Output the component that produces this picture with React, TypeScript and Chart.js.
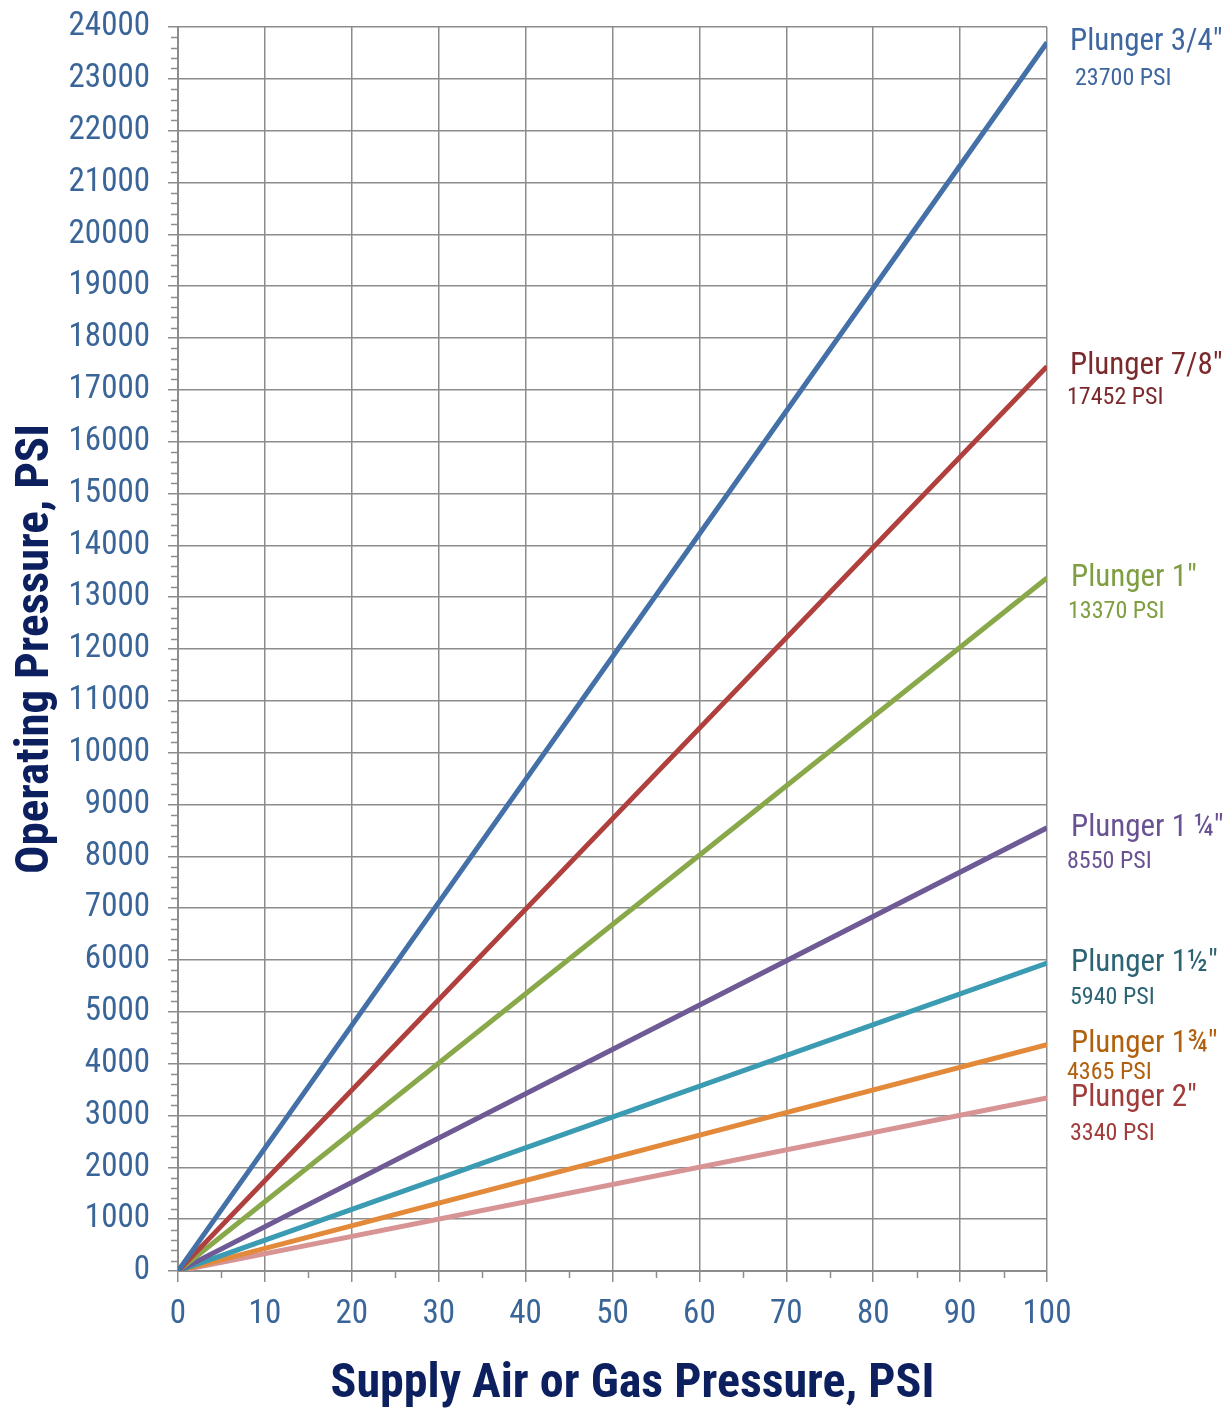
import React, { useEffect, useRef } from "react";
import { Chart, registerables } from "chart.js";

Chart.register(...registerables);

const supplyPressure = [0, 100];
const plunger34 = [0, 23700];
const plunger78 = [0, 17452];
const plunger1 = [0, 13370];
const plunger114 = [0, 8550];
const plunger112 = [0, 5940];
const plunger134 = [0, 4365];
const plunger2 = [0, 3340];

const seriesValues = [plunger34, plunger78, plunger1, plunger114, plunger112, plunger134, plunger2];
const plungerNames = ['Plunger 3/4"', 'Plunger 7/8"', 'Plunger 1"', 'Plunger 1 \u00BC"', 'Plunger 1\u00BD"', 'Plunger 1\u00BE"', 'Plunger 2"'];
const psiLabels = ["23700 PSI", "17452 PSI", "13370 PSI", "8550 PSI", "5940 PSI", "4365 PSI", "3340 PSI"];
const xTitle = "Supply Air or Gas Pressure, PSI";
const yTitle = "Operating Pressure, PSI";
const lineColors = ["#4470a8", "#b0403e", "#88a84a", "#6e5a94", "#3a9bb2", "#e2893a", "#d89494"];
const labelColors = ["#3e67a0", "#7a2a2c", "#7e9e40", "#6a5292", "#2c6474", "#b0600f", "#a03c3c"];
const nameDx = [23, 23, 24, 24, 24, 24, 24];
const psiDx = [28, 20, 21, 20, 23, 20, 23];
const psiDy = [36, 32, 34, 34, 35, 28, 36];

const FONT = '"Roboto Condensed", "Open Sans Condensed", sans-serif';
const TICK_COLOR = "#3a6598";
const TITLE_COLOR = "#0c1f5e";
const GRID_COLOR = "#8c8c8c";

const extrasPlugin = {
  id: "extras",
  afterDraw(chart: any) {
    const ctx = chart.ctx;
    const xs = chart.scales.x;
    const ys = chart.scales.y;
    const area = chart.chartArea;
    ctx.save();
    ctx.strokeStyle = GRID_COLOR;
    ctx.lineWidth = 1.5;
    for (let v = 0; v <= 24000; v += 200) {
      if (v % 1000 === 0) continue;
      const py = Math.round(ys.getPixelForValue(v)) + 0.5;
      ctx.beginPath();
      ctx.moveTo(area.left - 7, py);
      ctx.lineTo(area.left, py);
      ctx.stroke();
    }
    for (let v = 0; v <= 100; v += 5) {
      if (v % 10 === 0) continue;
      const px = Math.round(xs.getPixelForValue(v)) + 0.5;
      ctx.beginPath();
      ctx.moveTo(px, area.bottom);
      ctx.lineTo(px, area.bottom + 7);
      ctx.stroke();
    }
    ctx.textAlign = "left";
    ctx.textBaseline = "middle";
    seriesValues.forEach((vals, i) => {
      const py = ys.getPixelForValue(vals[vals.length - 1]);
      ctx.fillStyle = labelColors[i];
      ctx.font = "31px " + FONT;
      ctx.fillText(plungerNames[i], area.right + nameDx[i], py);
      ctx.font = "24px " + FONT;
      ctx.fillText(psiLabels[i], area.right + psiDx[i], py + psiDy[i]);
    });
    ctx.textAlign = "center";
    ctx.fillStyle = TITLE_COLOR;
    ctx.font = "bold 48px " + FONT;
    ctx.fillText(xTitle, (area.left + area.right) / 2 + 20, area.bottom + 114);
    ctx.restore();
  },
};

export default function App() {
  const ref = useRef<HTMLCanvasElement>(null);
  useEffect(() => {
    document.body.style.margin = "0";
    const chart = new Chart(ref.current as HTMLCanvasElement, {
      type: "line",
      data: {
        datasets: seriesValues.map((vals, i) => ({
          label: plungerNames[i],
          data: vals.map((v, j) => ({ x: supplyPressure[j], y: v })),
          borderColor: lineColors[i],
          backgroundColor: lineColors[i],
          borderWidth: 5,
          pointRadius: 0,
          fill: false,
        })),
      },
      options: {
        animation: false,
        responsive: true,
        maintainAspectRatio: false,
        layout: { padding: { left: 8, right: 184, top: 27, bottom: 0 } },
        plugins: { legend: { display: false }, tooltip: { enabled: false } },
        scales: {
          x: {
            type: "linear",
            min: 0,
            max: 100,
            ticks: { stepSize: 10, color: TICK_COLOR, font: { family: FONT, size: 33 }, padding: 13, callback: (v: any) => String(v) },
            grid: { color: GRID_COLOR, lineWidth: 1.5, tickLength: 11 },
            border: { color: GRID_COLOR, width: 2 },
            title: { display: false },
            afterFit: (s: any) => { s.height = 141; s.paddingLeft = 0; s.paddingRight = 0; },
          },
          y: {
            min: 0,
            max: 24000,
            ticks: { stepSize: 1000, autoSkip: false, color: TICK_COLOR, font: { family: FONT, size: 33 }, padding: 18, callback: (v: any) => String(v) },
            grid: { color: GRID_COLOR, lineWidth: 1.5, tickLength: 10 },
            border: { color: GRID_COLOR, width: 2 },
            title: {
              display: true,
              text: yTitle,
              color: TITLE_COLOR,
              font: { family: FONT, size: 47, weight: "bold" },
              padding: { top: 0, bottom: 6 },
            },
            afterFit: (s: any) => { s.width = 170; s.paddingTop = 0; s.paddingBottom = 0; },
          },
        },
      },
      plugins: [extrasPlugin],
    });
    return () => chart.destroy();
  }, []);
  return (
    <div style={{ width: 1231, height: 1412, position: "relative" }}>
      <canvas ref={ref} />
    </div>
  );
}
